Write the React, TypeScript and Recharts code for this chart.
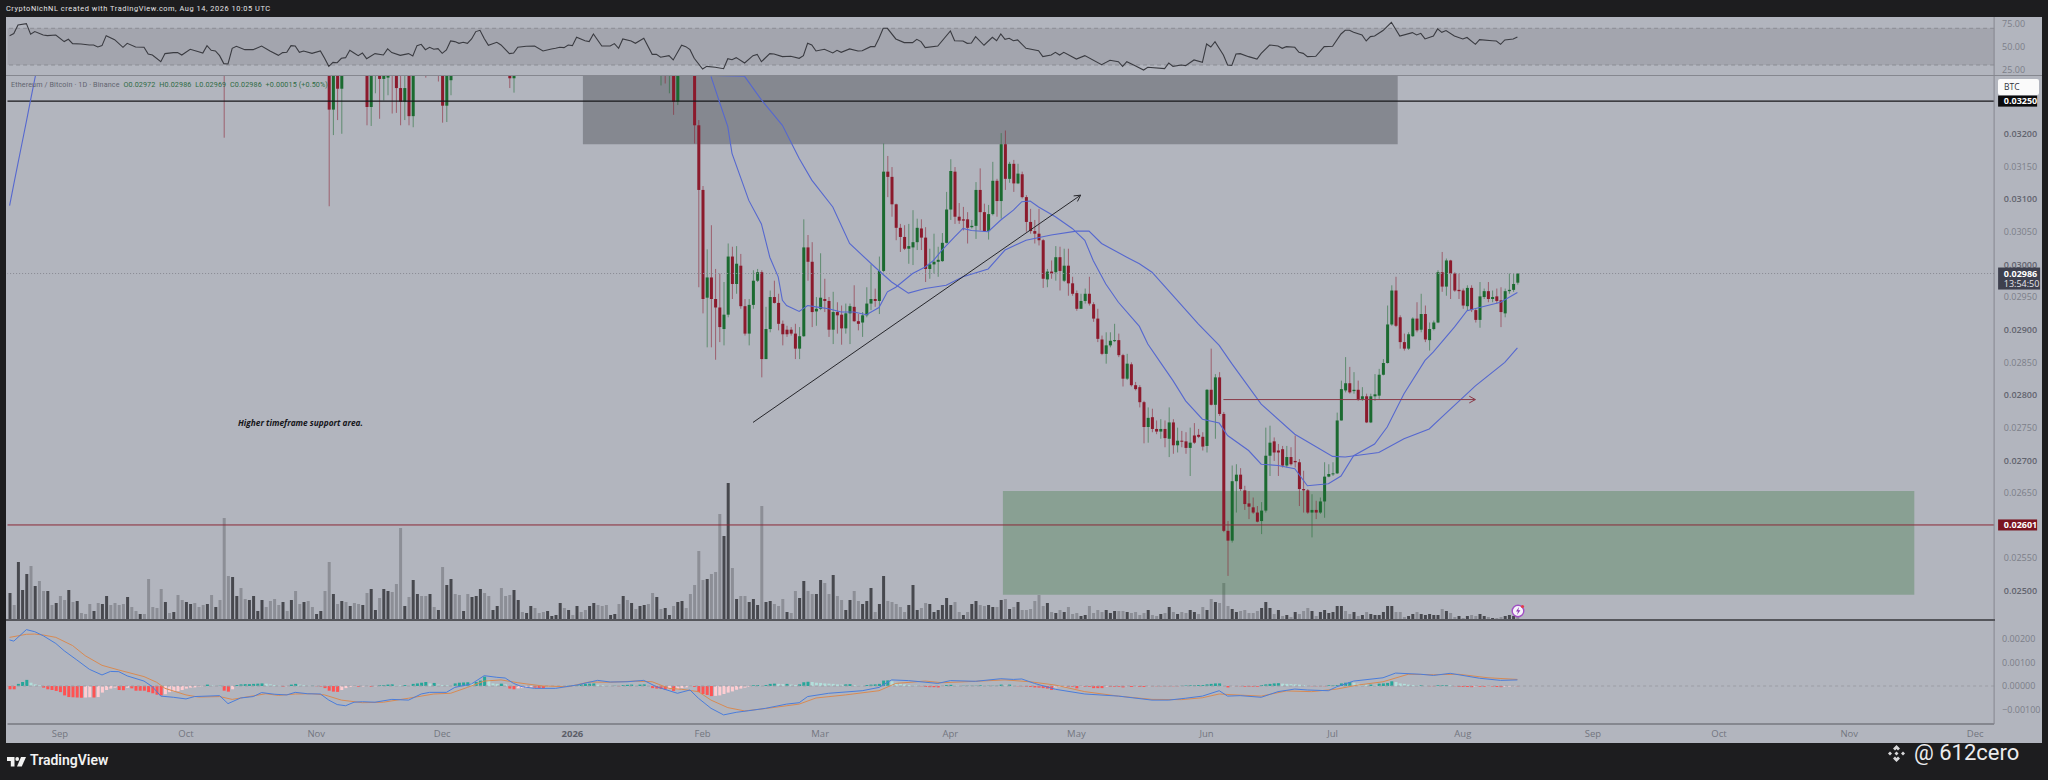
import { Bar, Cell, ComposedChart, Line, ReferenceArea, ReferenceLine, XAxis, YAxis } from 'recharts'

// prices and MACD values are kept in units of 0.00001
const SLOTS = 473 // daily slots on the time scale, real bars + empty future
const START = Date.UTC(2025, 7, 20)
const LEFT = 7.5
const AXIS_W = 53.9
const FONT = '"Open Sans", "Noto Sans", sans-serif'

const monthTicks = ['2025-09-01', '2025-10-01', '2025-11-01', '2025-12-01', '2026-01-01', '2026-02-01', '2026-03-01', '2026-04-01', '2026-05-01', '2026-06-01', '2026-07-01', '2026-08-01', '2026-09-01', '2026-10-01', '2026-11-01', '2026-12-01']
const monthLabels = ['Sep', 'Oct', 'Nov', 'Dec', '2026', 'Feb', 'Mar', 'Apr', 'May', 'Jun', 'Jul', 'Aug', 'Sep', 'Oct', 'Nov', 'Dec']
const priceTicks = [3200, 3150, 3100, 3050, 3000, 2950, 2900, 2850, 2800, 2750, 2700, 2650, 2550, 2500, 3250, 2601, 2986]
const rsiTicks = [75, 50, 25]
const macdTicks = [200, 100, 0, -100]

// bars whose body sits above the pane, only the low is readable: [bar, o, h, l, c]
const earlyCandles = [
  [51, 3330, 3340, 3194, 3305], [76, 3330, 3340, 3089, 3237], [77, 3237, 3345, 3198, 3330], [78, 3330, 3340, 3221, 3269],
  [79, 3269, 3340, 3200, 3320], [85, 3330, 3340, 3213, 3241], [86, 3241, 3340, 3212, 3320], [87, 3310, 3330, 3262, 3320],
  [88, 3320, 3330, 3223, 3284], [89, 3284, 3330, 3251, 3310], [90, 3286, 3330, 3259, 3310], [91, 3320, 3330, 3231, 3300],
  [92, 3310, 3330, 3232, 3270], [93, 3270, 3300, 3213, 3249], [94, 3249, 3300, 3221, 3270], [95, 3310, 3320, 3213, 3227],
  [96, 3227, 3320, 3210, 3310], [99, 3320, 3330, 3286, 3300], [102, 3320, 3330, 3280, 3300], [103, 3320, 3330, 3217, 3243],
  [104, 3243, 3330, 3218, 3320], [105, 3282, 3330, 3259, 3320], [119, 3320, 3330, 3270, 3285], [120, 3285, 3330, 3263, 3320],
  [155, 3300, 3320, 3274, 3310], [156, 3320, 3330, 3277, 3300], [157, 3300, 3320, 3262, 3310], [158, 3320, 3330, 3229, 3249],
  [159, 3249, 3330, 3244, 3320],
]

// [o, h, l, c] for every bar from index 163 on
const FIRST_LATE = 163
const lateCandles = [
  [3330, 3340, 3185, 3213], [3213, 3221, 2965, 3114], [3114, 3120, 2925, 2947], [2949, 3023, 2873, 2980], [2980, 3060, 2873, 2947],
  [2947, 2993, 2854, 2934], [2934, 2986, 2881, 2904], [2901, 2973, 2876, 2923], [2923, 3032, 2919, 3012], [3012, 3027, 2947, 2970],
  [2970, 3028, 2955, 3001], [2998, 3016, 2932, 2936], [2936, 2947, 2891, 2894], [2894, 2947, 2876, 2938], [2938, 2991, 2932, 2975],
  [2975, 2993, 2973, 2988], [2988, 2991, 2827, 2855], [2855, 2935, 2855, 2901], [2901, 2960, 2896, 2950], [2950, 2975, 2940, 2941],
  [2941, 2955, 2899, 2909], [2909, 2914, 2876, 2893], [2900, 2906, 2889, 2893], [2900, 2904, 2891, 2894], [2894, 2909, 2855, 2871],
  [2871, 2904, 2855, 2890], [2890, 3069, 2889, 3026], [3026, 3045, 2975, 3004], [3004, 3034, 2904, 2927], [2928, 2950, 2906, 2932],
  [2932, 3017, 2930, 2949], [2947, 2978, 2927, 2944], [2944, 2950, 2889, 2900], [2900, 2958, 2878, 2927], [2927, 2942, 2894, 2922],
  [2923, 2937, 2877, 2902], [2902, 2940, 2894, 2925], [2925, 2940, 2878, 2936], [2935, 2968, 2912, 2913], [2913, 2924, 2899, 2909],
  [2911, 2927, 2889, 2922], [2922, 2965, 2919, 2940], [2940, 3000, 2930, 2947], [2947, 2963, 2935, 2944], [2944, 3012, 2924, 2990],
  [2990, 3185, 2988, 3142], [3142, 3166, 3103, 3134], [3134, 3149, 3073, 3092], [3092, 3093, 3037, 3056], [3056, 3062, 3019, 3042],
  [3042, 3060, 3022, 3024], [3024, 3062, 3001, 3028], [3026, 3083, 2999, 3034], [3034, 3070, 3022, 3056], [3055, 3069, 3022, 3041],
  [3041, 3057, 2973, 2993], [2993, 3024, 2978, 3000], [3000, 3047, 2986, 3004], [3004, 3027, 2981, 3007], [3005, 3048, 3004, 3033],
  [3033, 3111, 3032, 3084], [3084, 3161, 3068, 3143], [3142, 3149, 3062, 3073], [3073, 3094, 3062, 3067], [3069, 3088, 3052, 3067],
  [3069, 3080, 3032, 3056], [3057, 3068, 3055, 3059], [3059, 3126, 3039, 3114], [3114, 3147, 3052, 3080], [3080, 3093, 3050, 3051],
  [3051, 3091, 3038, 3077], [3077, 3157, 3075, 3128], [3128, 3131, 3073, 3097], [3097, 3201, 3070, 3184], [3184, 3205, 3114, 3131],
  [3131, 3157, 3125, 3154], [3154, 3160, 3111, 3124], [3124, 3154, 3123, 3139], [3138, 3142, 3101, 3103], [3103, 3106, 3050, 3065],
  [3065, 3085, 3047, 3051], [3051, 3068, 3032, 3047], [3047, 3085, 3029, 3037], [3037, 3039, 2964, 2978], [2977, 2993, 2965, 2989],
  [2989, 3006, 2978, 2986], [2988, 3028, 2975, 3011], [3011, 3027, 2960, 2990], [2975, 3024, 2973, 2998], [2998, 3024, 2952, 2971],
  [2971, 2981, 2952, 2955], [2956, 2960, 2929, 2932], [2932, 2955, 2932, 2944], [2944, 2963, 2940, 2955], [2955, 2981, 2937, 2940],
  [2939, 2942, 2912, 2917], [2917, 2932, 2881, 2886], [2885, 2891, 2861, 2863], [2863, 2896, 2848, 2876], [2876, 2896, 2873, 2883],
  [2883, 2909, 2881, 2884], [2884, 2894, 2858, 2861], [2861, 2863, 2813, 2825], [2825, 2863, 2823, 2848], [2847, 2850, 2813, 2815],
  [2815, 2820, 2807, 2809], [2812, 2815, 2781, 2789], [2789, 2791, 2726, 2751], [2751, 2781, 2727, 2765], [2766, 2779, 2743, 2748],
  [2748, 2761, 2740, 2744], [2744, 2763, 2733, 2748], [2748, 2761, 2720, 2734], [2733, 2781, 2705, 2758], [2758, 2763, 2710, 2723],
  [2723, 2750, 2712, 2730], [2730, 2745, 2720, 2729], [2729, 2743, 2710, 2719], [2719, 2750, 2676, 2727], [2738, 2757, 2725, 2727],
  [2739, 2748, 2734, 2736], [2736, 2743, 2715, 2721], [2722, 2809, 2712, 2808], [2808, 2871, 2784, 2785], [2785, 2832, 2733, 2827],
  [2827, 2835, 2768, 2771], [2771, 2774, 2590, 2592], [2592, 2607, 2523, 2577], [2577, 2692, 2574, 2668], [2668, 2694, 2620, 2678],
  [2678, 2688, 2653, 2656], [2654, 2661, 2624, 2633], [2634, 2653, 2610, 2629], [2628, 2643, 2618, 2620], [2620, 2630, 2605, 2606],
  [2607, 2636, 2587, 2623], [2623, 2750, 2620, 2707], [2707, 2753, 2676, 2727], [2729, 2735, 2699, 2712], [2715, 2725, 2676, 2712],
  [2717, 2722, 2689, 2692], [2692, 2722, 2689, 2705], [2705, 2720, 2692, 2694], [2699, 2738, 2689, 2697], [2697, 2702, 2630, 2656],
  [2656, 2684, 2620, 2654], [2654, 2656, 2618, 2620], [2620, 2648, 2582, 2624], [2624, 2638, 2610, 2620], [2620, 2643, 2618, 2637],
  [2637, 2697, 2612, 2675], [2675, 2694, 2674, 2679], [2679, 2697, 2676, 2680], [2680, 2773, 2679, 2761], [2761, 2822, 2761, 2809],
  [2807, 2858, 2804, 2818], [2818, 2843, 2802, 2804], [2806, 2835, 2802, 2808], [2808, 2822, 2791, 2793], [2794, 2812, 2791, 2798],
  [2798, 2802, 2757, 2758], [2758, 2802, 2757, 2798], [2798, 2832, 2791, 2801], [2799, 2840, 2794, 2831], [2831, 2855, 2830, 2849],
  [2849, 2937, 2848, 2908], [2908, 2968, 2906, 2960], [2960, 2981, 2904, 2906], [2919, 2922, 2871, 2881], [2881, 2894, 2868, 2871],
  [2871, 2896, 2869, 2893], [2890, 2919, 2889, 2917], [2917, 2942, 2896, 2899], [2900, 2955, 2896, 2924], [2924, 2937, 2881, 2885],
  [2884, 2911, 2868, 2901], [2901, 2914, 2899, 2911], [2911, 2991, 2910, 2988], [2988, 3019, 2958, 2966], [2966, 3009, 2952, 3006],
  [3006, 3007, 2947, 2986], [2986, 2988, 2958, 2960], [2961, 2986, 2947, 2959], [2960, 2963, 2932, 2937], [2936, 2968, 2930, 2964],
  [2964, 2968, 2927, 2930], [2930, 2932, 2911, 2915], [2915, 2973, 2903, 2951], [2950, 2963, 2947, 2959], [2959, 2973, 2942, 2947],
  [2947, 2960, 2942, 2950], [2951, 2963, 2940, 2944], [2945, 2965, 2904, 2927], [2925, 2963, 2919, 2959], [2959, 2986, 2955, 2961],
  [2961, 2986, 2958, 2970], [2972, 2986, 2969, 2986],
]

const volume = [
  26, 14, 57, 29, 45, 53, 33, 38, 28, 28, 14, 16, 23, 19, 29, 17, 18, 6, 5, 15, 8, 16, 15, 23, 14, 16, 14, 15, 22, 12,
  8, 5, 5, 40, 12, 11, 30, 17, 6, 7, 24, 19, 17, 15, 16, 12, 14, 15, 24, 12, 19, 101, 43, 42, 23, 31, 20, 19, 23, 8,
  19, 12, 18, 20, 14, 17, 8, 19, 28, 15, 17, 18, 12, 5, 8, 28, 57, 25, 15, 18, 17, 13, 16, 15, 14, 26, 30, 9, 21, 30,
  28, 27, 35, 91, 13, 22, 39, 25, 23, 23, 25, 12, 9, 52, 34, 40, 25, 24, 8, 25, 22, 23, 30, 26, 23, 9, 13, 31, 23, 24,
  29, 19, 7, 6, 13, 11, 6, 7, 8, 3, 4, 16, 11, 9, 4, 13, 7, 9, 13, 16, 14, 13, 14, 4, 5, 15, 23, 19, 16, 10,
  13, 14, 15, 26, 22, 10, 11, 4, 13, 17, 18, 11, 25, 34, 68, 39, 40, 45, 47, 105, 83, 136, 51, 20, 23, 23, 17, 20, 14, 113,
  17, 18, 15, 13, 20, 7, 6, 28, 21, 38, 28, 25, 25, 39, 36, 25, 44, 23, 19, 9, 19, 28, 18, 15, 18, 31, 7, 15, 43, 18,
  17, 15, 12, 7, 14, 34, 9, 11, 16, 15, 7, 9, 14, 21, 14, 17, 7, 4, 7, 15, 18, 14, 13, 14, 12, 12, 19, 20, 10, 12,
  17, 9, 9, 10, 18, 24, 13, 16, 7, 6, 9, 7, 12, 5, 6, 3, 4, 13, 6, 9, 7, 9, 6, 8, 8, 8, 7, 6, 7, 4,
  6, 9, 4, 3, 5, 6, 12, 7, 5, 7, 6, 9, 7, 5, 12, 9, 20, 17, 16, 36, 13, 10, 7, 8, 9, 6, 6, 8, 11, 17,
  11, 5, 9, 3, 4, 2, 7, 5, 8, 11, 8, 3, 7, 9, 6, 7, 13, 13, 8, 5, 7, 3, 4, 7, 5, 4, 4, 7, 13, 13,
  7, 7, 2, 3, 5, 7, 5, 4, 5, 4, 4, 10, 8, 6, 2, 3, 1, 3, 4, 3, 5, 3, 2, 1, 1, 2, 3, 4, 3, 2,
]

// D = dark bar, L = light bar
const volumeTone = (
  'DLDDDLDLLD LDLLDLDLLL DLDDLLLLDL LDLLLLLDLD LLDDLLLDLD LLLDDLLDDD DLLLLDLDLL DLLDDLLDLD LDLLDLDDLD DLLLDLDDLL DLDLDDLLDL DDDLLDDLLL ' +
  'DDLDDLLLDD DDLDLDLLDD LLLDDLDLDL DDLLDLDDLD DLLLLLDLLL DDLDLLDDDL DDLLLDLLDD LLDDLLDLLD DLLDDDLDDL LLLLDDDLLD DDDDDLLDLD DLLDDLDLDL ' +
  'DLLLLLLDLD LDLLLDDLLL LDDDLLDLLL LDLLDLDLDL LDDLLDLDLL LDDLLLLLDD DLDLDLDLLL DLDDDDDDLL DLDLDDDDDD LLLDDLDDDD DLDLLDLDLL DDLDLLDDDL'
).replace(/ /g, '')

const macdHist = [
  -14, -14, 9, 17, 26, 14, 7, 3, -7, -14, -17, -21, -26, -40, -47, -48, -49, -50, -49, -48, -49, -47, -28, -17, -11, -7, -17, -18, -7, -10,
  -20, -20, -20, -26, -31, -37, -40, -35, -26, -23, -22, -17, -11, -7, -6, -4, -1, 6, 3, 1, 1, -20, -24, -14, 4, 7, 8, 8, 9, 10,
  11, 10, 7, 4, 1, -3, -1, 6, 9, 6, 3, 1, 1, -1, -2, -9, -20, -24, -25, -17, -9, -4, -3, -3, -2, -1, -3, -1, 3, 4,
  6, 7, 4, 3, 4, 1, 9, 11, 14, 17, 11, 13, 6, 4, 3, 1, 11, 14, 15, 16, 11, 17, 23, 40, 26, 11, 9, 10, 7, -11,
  -14, -10, -9, -8, -7, -7, -8, -9, -3, -1, -1, -1, -1, 1, 3, 4, 7, 9, 10, 11, 6, 4, 3, 1, 1, -1, 4, 5, 6, 1,
  6, 7, 1, -9, -11, -13, -16, -11, -21, -14, -9, -6, -1, -4, -26, -34, -38, -43, -42, -40, -34, -28, -23, -16, -11, -7, -3, 3, 4, 1,
  4, 9, 10, 9, 8, 9, 6, 4, 7, 16, 18, 17, 14, 13, 11, 10, 9, 7, 6, 7, 8, 4, 3, 1, 4, 6, 7, 9, 23, 24,
  20, 14, 10, 7, 4, 3, 2, -1, -4, -5, -5, -6, -1, 4, 5, 3, 1, 1, 1, 1, 1, 3, 1, 1, 1, 1, 6, 2, 6, 1,
  -1, -1, -3, -4, -6, -7, -9, -11, -17, -6, -4, -3, -3, -3, -10, -3, -3, -3, -9, -9, -9, -3, -3, -3, -3, -6, -1, -4, -1, -4,
  -4, -1, -1, -1, -1, -1, -1, -1, -1, 1, 2, 3, 3, 4, 4, 7, 9, 11, 11, 1, -6, -1, -1, -1, -3, -3, -3, -3, 4, 7,
  9, 11, 12, 10, 9, 8, 7, 6, 4, 1, -1, -1, -1, -1, 3, 3, 4, 11, 14, 17, 14, 10, 7, 6, 6, 4, 10, 11, 13, 20,
  17, 11, 9, 6, 4, 3, 3, 1, -1, -1, 3, 3, 4, 3, -1, -4, -4, -4, -5, -3, -3, -3, -2, -2, -4, -5, -3, -2, -1, -1,
]

// the lines below are readings at [bar index, value], Recharts connects them
const rsiPoints = [
  [0, 62], [1, 64.2], [2, 73.6], [4, 75.1], [5, 63.5], [6, 66.4], [8, 62.7], [9, 62], [11, 62.7], [13, 55.5], [14, 58], [15, 53.3], [17, 52.9], [19, 51.8], [20, 51.8], [21, 49.6], [22, 51.1], [23, 62], [25, 57.6], [27, 49.3], [28, 53.6], [30, 49.6], [32, 49.3], [33, 42], [34, 40.9], [36, 33.6], [37, 42.4], [39, 43.5], [40, 43.5], [41, 40.9], [43, 47.1], [45, 44.5], [46, 43.1], [47, 51.1], [48, 46], [49, 45.3], [50, 40.2], [51, 31.5], [52, 31.1], [53, 48.2], [54, 50.4], [56, 46.7], [58, 46.7], [60, 50.7], [62, 45.3], [64, 40.5], [65, 43.5], [66, 43.8], [67, 51.1], [68, 50.7], [69, 43.8], [70, 45.3], [72, 42.7], [74, 45.3], [75, 37.3], [76, 28.5], [77, 32.9], [78, 32.5], [79, 37.3], [80, 38], [81, 46], [82, 43.1], [83, 40.2], [84, 43.1], [85, 36.9], [87, 42.4], [89, 40.9], [90, 47.5], [91, 43.5], [93, 40.5], [95, 42.4], [96, 39.8], [97, 51.1], [98, 52.5], [99, 46.7], [100, 49.3], [101, 47.1], [102, 47.8], [103, 42.7], [104, 46.4], [105, 56.2], [106, 55.5], [107, 53.6], [108, 54.7], [109, 53.6], [110, 58.4], [111, 66.4], [112, 67.8], [113, 58.9], [114, 51.5], [116, 54.7], [117, 51.8], [119, 42.4], [120, 43.1],
  [121, 49.3], [123, 50.4], [125, 50.7], [127, 45.3], [129, 47.5], [130, 48.2], [131, 49.3], [132, 48.9], [133, 51.8], [134, 51.1], [135, 60.2], [137, 56.5], [138, 55.5], [139, 63.8], [141, 50.7], [143, 50.7], [144, 53.3], [145, 48.2], [146, 58.4], [148, 56.2], [149, 53.6], [151, 59.1], [153, 41.6], [154, 41.6], [155, 38.4], [157, 40.2], [158, 35.5], [160, 51.5], [161, 50], [162, 46.7], [163, 37.3], [165, 25.6], [166, 28.5], [168, 27.5], [170, 26], [171, 36.9], [172, 35.8], [173, 38], [175, 32.2], [177, 40.2], [178, 41.6], [179, 33.6], [181, 42.4], [182, 42], [184, 39.1], [186, 39.5], [188, 37.3], [189, 40.2], [190, 53.6], [191, 51.8], [192, 45.3], [194, 47.1], [196, 43.1], [197, 46], [198, 43.8], [200, 47.5], [202, 45.3], [203, 45.6], [205, 50], [206, 50], [207, 59.1], [208, 70], [209, 70], [211, 58.4], [213, 54.4], [215, 54.4], [216, 58], [217, 55.5], [218, 48.9], [221, 50.7], [224, 67.1], [225, 56.5], [227, 56.2], [228, 53.6], [229, 54], [230, 60.9], [232, 51.5], [234, 60.2], [235, 56.5], [236, 63.8], [237, 58], [238, 59.1], [239, 56.5], [240, 57.3],
  [242, 48.2], [245, 45.6], [246, 39.1], [248, 40.9], [249, 43.8], [250, 40.9], [251, 43.8], [254, 36.5], [256, 40.2], [260, 30.4], [262, 35.1], [264, 33.6], [265, 28.5], [266, 33.6], [268, 29.3], [270, 24.5], [271, 27.5], [275, 26], [276, 32.2], [277, 28.5], [279, 30], [280, 29.3], [282, 35.5], [284, 32.9], [285, 52.9], [286, 49.6], [287, 55.5], [289, 40.9], [290, 30], [291, 29.6], [292, 42], [293, 42.4], [295, 39.1], [297, 36.5], [298, 42.7], [300, 51.8], [302, 50.7], [303, 48.2], [304, 50], [306, 49.3], [307, 43.8], [308, 42.7], [309, 39.1], [311, 39.5], [313, 50], [315, 50.4], [317, 63.8], [318, 67.8], [319, 67.8], [320, 65.6], [322, 62.7], [323, 56.2], [324, 60.9], [325, 61.6], [327, 67.5], [329, 76.5], [331, 61.6], [334, 65.3], [335, 62.7], [336, 64.5], [337, 58.4], [339, 61.6], [340, 69.3], [341, 65.6], [342, 67.5], [344, 61.6], [346, 58.4], [347, 60], [349, 52.5], [350, 57.6], [353, 56.5], [354, 56.2], [355, 52.5], [356, 57.3], [358, 58.4], [359, 60.5],
]

const macdPoints = [
  [0, 196], [1, 191], [4, 240], [6, 231], [8, 214], [11, 181], [13, 150], [16, 111], [19, 71], [22, 47], [24, 62], [26, 61], [28, 43], [32, 21], [34, -3], [36, -43], [39, -48], [42, -55], [44, -45], [47, -43], [50, -41], [52, -75], [55, -51], [58, -45], [60, -28], [63, -35], [66, -38], [68, -27], [71, -33], [74, -34], [76, -60], [78, -79], [80, -84], [82, -69], [84, -67], [87, -69], [91, -57], [95, -60], [98, -34], [100, -27], [104, -27], [106, -6], [110, 9], [113, 44], [116, 37], [118, 34], [120, 11],
  [122, -3], [125, -10], [130, -10], [135, 4], [140, 24], [143, 17], [147, 18], [151, 24], [154, -3], [159, -31], [162, -17], [164, -52], [167, -95], [170, -123], [173, -112], [176, -105], [180, -95], [185, -77], [188, -71], [190, -45], [195, -31], [203, -20], [207, -6], [210, 26], [214, 23], [221, 11], [224, 23], [230, 20], [236, 31], [239, 28], [241, 30],
  [244, 11], [249, -14], [256, -34], [264, -43], [272, -60], [276, -60], [280, -52], [284, -43], [288, -20], [290, -43], [293, -41], [298, -48], [302, -24], [306, -13], [309, -17], [314, -20], [316, -3], [320, 21], [327, 35], [330, 55], [336, 50], [339, 45], [343, 54], [350, 33], [355, 24], [359, 26],
]

const signalPoints = [
  [0, 207], [4, 220], [6, 221], [8, 217], [11, 207], [15, 172], [18, 129], [22, 88], [26, 68], [32, 40], [35, 16], [37, -10], [42, -38], [45, -47], [50, -45], [53, -57], [57, -45], [61, -33], [64, -40], [68, -34], [72, -33], [75, -38], [79, -60], [84, -71], [89, -69], [95, -52], [101, -34], [105, -31], [109, -6], [113, 21], [117, 26], [121, 14],
  [123, 9], [127, 0], [133, -3], [138, 17], [143, 16], [149, 21], [153, 18], [157, -10], [160, -14], [164, -24], [167, -60], [171, -92], [175, -106], [180, -96], [188, -77], [192, -51], [199, -38], [207, -20], [211, 11], [218, 21], [222, 14], [230, 20], [237, 26], [243, 18],
  [249, 4], [256, -24], [264, -43], [272, -57], [279, -58], [284, -50], [288, -34], [292, -38], [298, -43], [304, -21], [310, -24], [316, -13], [321, 4], [327, 18], [333, 50], [339, 48], [345, 50], [352, 35], [359, 28],
]

const maFastPoints = [
  [167, 3288], [169, 3249], [171, 3211], [172, 3170], [174, 3134], [176, 3098], [179, 3062], [181, 3011], [183, 2981], [184, 2945], [185, 2937], [188, 2928], [190, 2937], [192, 2935], [195, 2932], [198, 2927], [201, 2927], [204, 2923], [207, 2934], [209, 2958], [211, 2965], [215, 2986], [218, 2996], [220, 3006], [222, 3022], [225, 3042], [227, 3055], [229, 3052], [233, 3050], [236, 3068], [239, 3083], [241, 3096], [243, 3097], [245, 3088], [249, 3073], [253, 3055], [256, 3037], [258, 3006], [261, 2970], [264, 2942], [269, 2905],
  [271, 2878], [274, 2850], [277, 2822], [280, 2791], [284, 2763], [288, 2757], [290, 2738], [295, 2715], [298, 2694], [302, 2692], [306, 2687], [309, 2661], [314, 2664], [317, 2676], [320, 2707], [325, 2725], [328, 2751], [332, 2802], [337, 2853], [339, 2866], [344, 2904], [347, 2929], [350, 2934], [355, 2942], [359, 2957],
]

const maSlowPoints = [
  [0, 3090], [1, 3123], [2, 3155], [3, 3187], [4, 3219], [5, 3252], [6, 3284], [7, 3316],
  [175, 3288], [179, 3252], [184, 3213], [188, 3162], [191, 3129], [196, 3088], [200, 3032], [206, 2996], [210, 2973], [214, 2956], [218, 2963], [223, 2968], [227, 2981], [233, 2993], [237, 3022], [242, 3037], [248, 3045], [254, 3051], [257, 3051], [260, 3032], [266, 3011], [269, 3001],
  [272, 2988], [277, 2952], [283, 2909], [288, 2876], [291, 2848], [298, 2786], [306, 2740], [315, 2706], [318, 2705], [326, 2712], [332, 2733], [338, 2748], [341, 2766], [349, 2814], [356, 2850], [359, 2872],
]

const dateOf = (i: number) => new Date(START + i * 86400000).toISOString().slice(0, 10)

const candleByBar = new Map<number, number[]>()
earlyCandles.forEach(([i, o, h, l, c]) => candleByBar.set(i, [o, h, l, c]))
lateCandles.forEach((row, k) => candleByBar.set(FIRST_LATE + k, row))

const lookup = (points: number[][]) => new Map(points.map(([i, v]) => [i, v]))
const rsiBy = lookup(rsiPoints)
const macdBy = lookup(macdPoints)
const signalBy = lookup(signalPoints)
const fastBy = lookup(maFastPoints)
const slowBy = lookup(maSlowPoints)

const rows = Array.from({ length: SLOTS }, (_, i) => {
  const candle = candleByBar.get(i)
  return {
    date: dateOf(i),
    candle,
    range: candle ? [candle[2], candle[1]] : null,
    volume: i < volume.length ? volume[i] : null,
    hist: i < macdHist.length ? macdHist[i] : null,
    rsi: rsiBy.get(i) ?? null,
    macd: macdBy.get(i) ?? null,
    signal: signalBy.get(i) ?? null,
    fast: fastBy.get(i) ?? null,
    slow: slowBy.get(i) ?? null,
  }
})

const histColor = (i: number) => {
  const v = macdHist[i]
  const prev = i > 0 ? macdHist[i - 1] : v
  if (v >= 0) return v >= prev ? '#26a69a' : '#b2dfdb'
  return v <= prev ? '#ff5252' : '#ffcdd2'
}

const fmtPrice = (v: number) => (v / 100000).toFixed(5)

function CandleShape(props: any) {
  const { x, y, width, height, payload } = props
  if (!payload.candle) return null
  const [o, h, l, c] = payload.candle
  const py = (p: number) => y + ((h - p) / (h - l)) * height
  const up = c >= o
  const color = up ? '#1b6a30' : '#8b1a2c'
  const top = py(Math.max(o, c))
  const bottom = py(Math.min(o, c))
  const cx = x + width / 2
  return (
    <g>
      <line x1={cx} x2={cx} y1={y} y2={y + height} stroke={color} strokeOpacity={0.55} strokeWidth={1} />
      <rect x={x} y={top} width={width} height={Math.max(bottom - top, 1)} fill={color} />
    </g>
  )
}

// x here already carries the axis tick offset, about 6px past the axis line
function PriceTick(props: any) {
  const { x, y, payload } = props
  const v = payload.value
  const tx = x + 1.7
  if (v === 3250 || v === 2601) {
    return (
      <g>
        <rect x={x - 4} y={y - 5.5} width={39} height={11} fill={v === 3250 ? '#0b0b0d' : '#7a1420'} />
        <text x={tx} y={y + 3.2} fontSize={9} fontWeight={700} fill="#fff" fontFamily={FONT}>{fmtPrice(v)}</text>
      </g>
    )
  }
  if (v === 2986) {
    return (
      <g>
        <rect x={x - 4} y={y - 6} width={42} height={22} fill="#3e404e" />
        <text x={tx} y={y + 3.2} fontSize={9} fontWeight={700} fill="#fff" fontFamily={FONT}>{fmtPrice(v)}</text>
        <text x={tx} y={y + 13.2} fontSize={9} fill="#e6e6ea" fontFamily={FONT}>13:54:50</text>
      </g>
    )
  }
  const strong = v % 100 === 0
  return (
    <text x={tx} y={y + 3.2} fontSize={9} fontWeight={strong ? 600 : 400} fill={strong ? '#62646e' : '#7c7f89'} fontFamily={FONT}>
      {fmtPrice(v)}
    </text>
  )
}

function ArrowLine(props: any) {
  const { x1, y1, x2, y2, stroke, strokeWidth } = props
  const a = Math.atan2(y2 - y1, x2 - x1)
  const len = 7
  const wing = (d: number) => `${x2 - len * Math.cos(a + d)},${y2 - len * Math.sin(a + d)}`
  return (
    <g fill="none" stroke={stroke} strokeWidth={strokeWidth}>
      <line x1={x1} y1={y1} x2={x2} y2={y2} />
      <polyline points={`${wing(0.5)} ${x2},${y2} ${wing(-0.5)}`} />
    </g>
  )
}

const paneStyle = (top: number): React.CSSProperties => ({ position: 'absolute', left: 0, top })
const hiddenX = <XAxis dataKey="date" scale="band" hide />
const margin = { top: 0, right: 0, bottom: 0, left: LEFT }

export default function App() {
  return (
    <div style={{ position: 'absolute', left: 0, top: 0, width: 2048, height: 780, background: '#1d1d1f', overflow: 'hidden', fontFamily: FONT }}>
      <div style={{ position: 'absolute', left: 6, top: 17, width: 2036, height: 726, background: '#b2b5be' }} />
      <div style={{ position: 'absolute', left: 6, top: 3.5, fontSize: 7.4, letterSpacing: 0.55, color: '#e4e4e6', fontFamily: 'Roboto', whiteSpace: 'nowrap' }}>
        CryptoNichNL created with TradingView.com, Aug 14, 2026 10:05 UTC
      </div>

      {/* RSI */}
      <ComposedChart style={paneStyle(17)} width={2048} height={58} data={rows} margin={margin}>
        {hiddenX}
        <YAxis orientation="right" width={AXIS_W} domain={[19.1, 82.3]} allowDataOverflow ticks={rsiTicks} interval={0}
          axisLine={{ stroke: '#85878f' }} tickLine={false} tick={{ fontSize: 9, fill: '#7c7f89', fontFamily: FONT }}
          tickFormatter={(v) => Number(v).toFixed(2)} />
        <ReferenceArea y1={30} y2={70} fill="#8e9098" fillOpacity={0.42} stroke="none" />
        <ReferenceLine y={70} stroke="#8b8d95" strokeDasharray="4 3" />
        <ReferenceLine y={30} stroke="#8b8d95" strokeDasharray="4 3" />
        <Line dataKey="rsi" stroke="#3a3b41" strokeWidth={1.1} dot={false} connectNulls isAnimationActive={false} />
      </ComposedChart>

      {/* volume, under the candles; hidden axis takes no room so reserve it in the margin */}
      <ComposedChart style={paneStyle(75)} width={2048} height={544} data={rows} margin={{ ...margin, right: AXIS_W }}>
        {hiddenX}
        <YAxis domain={[0, 544]} hide />
        <Bar dataKey="volume" barSize={3} isAnimationActive={false}>
          {rows.map((_, i) => (
            <Cell key={i} fill={volumeTone[i] === 'D' ? '#47484e' : '#8c8e96'} />
          ))}
        </Bar>
      </ComposedChart>

      {/* candles and drawings */}
      <ComposedChart style={paneStyle(75)} width={2048} height={544} data={rows} margin={margin}>
        {hiddenX}
        <YAxis orientation="right" width={AXIS_W} domain={[2457, 3290]} allowDataOverflow ticks={priceTicks} interval={0}
          axisLine={{ stroke: '#85878f' }} tickLine={false} tick={PriceTick} />
        <ReferenceArea x1={dateOf(137)} x2={dateOf(330)} y1={3184} y2={3290} fill="#1e2028" fillOpacity={0.3} stroke="none" />
        <ReferenceArea x1={dateOf(237)} x2={dateOf(453)} y1={2494} y2={2653} fill="#2c6f32" fillOpacity={0.3} stroke="none" />
        <ReferenceLine y={3250} stroke="#17171a" strokeWidth={1.3} />
        <ReferenceLine y={2601} stroke="#8a2a38" strokeWidth={1} />
        <ReferenceLine y={2986} stroke="#878992" strokeDasharray="1 2" />
        <Line dataKey="slow" stroke="#5668cf" strokeWidth={1.1} dot={false} connectNulls isAnimationActive={false} />
        <Line dataKey="fast" stroke="#5668cf" strokeWidth={1.1} dot={false} connectNulls isAnimationActive={false} />
        <Bar dataKey="range" barSize={3} shape={CandleShape} isAnimationActive={false} />
        <ReferenceLine segment={[{ x: dateOf(177), y: 2758 }, { x: dateOf(255), y: 3106 }]} stroke="#26262b" strokeWidth={1} shape={ArrowLine} />
        <ReferenceLine segment={[{ x: dateOf(289), y: 2793 }, { x: dateOf(349), y: 2793 }]} stroke="#8a3a48" strokeWidth={1} shape={ArrowLine} />
      </ComposedChart>

      {/* MACD + time scale */}
      <ComposedChart style={paneStyle(620)} width={2048} height={123} data={rows} margin={margin}>
        <XAxis dataKey="date" scale="band" ticks={monthTicks} interval={0} height={19} axisLine={{ stroke: '#85878f', strokeWidth: 2 }} tickLine={false}
          tick={(p: any) => {
            const label = monthLabels[monthTicks.indexOf(p.payload.value)]
            return (
              <text x={p.x} y={p.y + 5} textAnchor="middle" fontSize={9.5} fontWeight={label === '2026' ? 700 : 400} fill={label === '2026' ? '#5c5e68' : '#73757f'} fontFamily={FONT}>
                {label}
              </text>
            )
          }} />
        <YAxis orientation="right" width={AXIS_W} domain={[-161.7, 280.9]} allowDataOverflow ticks={macdTicks} interval={0}
          axisLine={{ stroke: '#85878f' }} tickLine={false} tick={{ fontSize: 9, fill: '#7c7f89', fontFamily: FONT }}
          tickFormatter={(v) => fmtPrice(Number(v)).replace('-', '−')} />
        <ReferenceLine y={0} stroke="#9b9da5" strokeDasharray="3 3" />
        <Bar dataKey="hist" barSize={3} isAnimationActive={false}>
          {rows.map((_, i) => (
            <Cell key={i} fill={i < macdHist.length ? histColor(i) : 'none'} />
          ))}
        </Bar>
        <Line dataKey="signal" stroke="#d88a52" strokeWidth={1} dot={false} connectNulls isAnimationActive={false} />
        <Line dataKey="macd" stroke="#4a7ddb" strokeWidth={1} dot={false} connectNulls isAnimationActive={false} />
      </ComposedChart>

      <div style={{ position: 'absolute', left: 6, top: 619, width: 1989, height: 1.5, background: '#55565c' }} />
      <div style={{ position: 'absolute', left: 6, top: 74.5, width: 2036, height: 1.5, background: '#85878f' }} />

      {/* pane legend */}
      <div style={{ position: 'absolute', left: 11, top: 80, fontSize: 7.2, letterSpacing: 0.12, fontFamily: 'Roboto', whiteSpace: 'nowrap', color: '#61646f' }}>
        Ethereum / Bitcoin · 1D · Binance&nbsp;&nbsp;
        <span style={{ color: '#2f6b44' }}>O0.02972&nbsp;&nbsp;H0.02986&nbsp;&nbsp;L0.02969&nbsp;&nbsp;C0.02986&nbsp;&nbsp;+0.00015 (+0.50%)</span>
      </div>
      <div style={{ position: 'absolute', left: 1998, top: 79, width: 41, height: 16, lineHeight: '16px', background: '#fafafa', borderRadius: 2, fontSize: 8.5, color: '#30323a', paddingLeft: 6, boxSizing: 'border-box' }}>
        BTC
      </div>
      <div style={{ position: 'absolute', left: 238, top: 417, fontSize: 8.3, fontWeight: 700, fontStyle: 'italic', color: '#16161a', whiteSpace: 'nowrap' }}>
        Higher timeframe support area.
      </div>

      {/* marker on the last bar */}
      <svg style={{ position: 'absolute', left: 1510, top: 603 }} width={16} height={16}>
        <circle cx={8} cy={8} r={5.8} fill="#f6f3fa" stroke="#a04fc4" strokeWidth={1.4} />
        <path d="M9 4 L6 8.5 H8 L7 12 L10.4 7.2 H8.3 Z" fill="#8d3fb5" />
        <circle cx={12.5} cy={3.5} r={1.6} fill="#e53a4c" />
      </svg>

      {/* footer */}
      <svg style={{ position: 'absolute', left: 7, top: 756 }} width={20} height={12} fill="#f2f2f2">
        <path d="M0 1 H7.5 V10.5 H3.8 V5 H0 Z" />
        <circle cx={10.2} cy={3} r={1.9} />
        <path d="M14 1 H19 L14.8 10.5 H10 Z" />
      </svg>
      <div style={{ position: 'absolute', left: 30, top: 752, fontSize: 14, fontWeight: 600, color: '#f2f2f2', fontFamily: 'Roboto', whiteSpace: 'nowrap' }}>TradingView</div>
      <svg style={{ position: 'absolute', left: 1887, top: 744 }} width={19} height={19} fill="#d8d8da">
        <path d="M9.5 1 L13 4.5 L11 6.5 L9.5 5 L8 6.5 L6 4.5 Z" />
        <path d="M9.5 18 L13 14.5 L11 12.5 L9.5 14 L8 12.5 L6 14.5 Z" />
        <path d="M1 9.5 L3 7.5 L5 9.5 L3 11.5 Z" />
        <path d="M14 9.5 L16 7.5 L18 9.5 L16 11.5 Z" />
        <path d="M9.5 7.5 L11.5 9.5 L9.5 11.5 L7.5 9.5 Z" />
      </svg>
      <div style={{ position: 'absolute', left: 1914, top: 740, fontSize: 22, color: '#ececee', fontFamily: 'Roboto', whiteSpace: 'nowrap' }}>@ 612cero</div>
    </div>
  )
}
